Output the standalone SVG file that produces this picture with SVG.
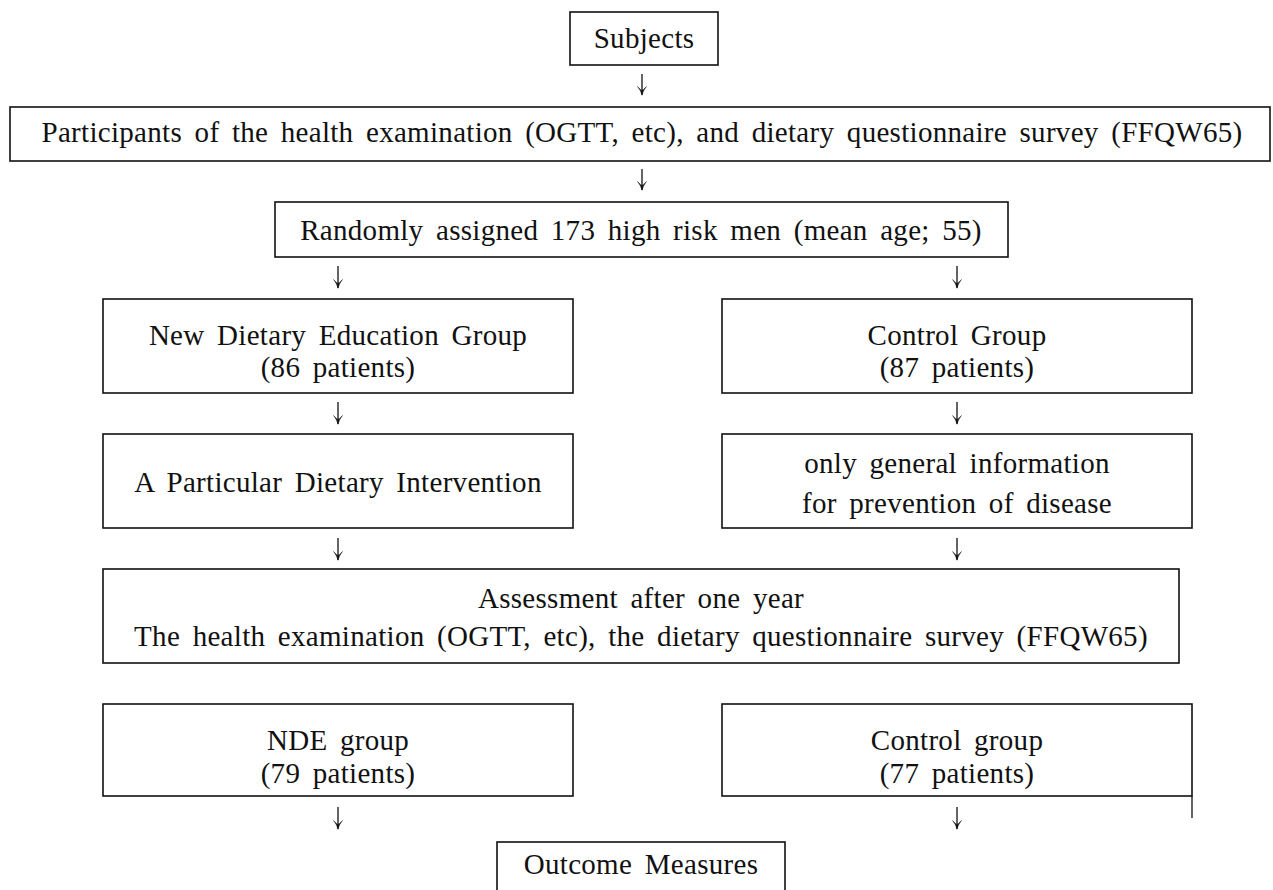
<svg xmlns="http://www.w3.org/2000/svg" width="1273" height="890" viewBox="0 0 1273 890">
<defs>
<style>
.box{fill:#fff;stroke:#111;stroke-width:1.6}
.t{font-family:"Liberation Serif","Times New Roman",serif;font-size:29px;fill:#111;text-anchor:middle;letter-spacing:0.3px;word-spacing:5px}
.c{stroke:#111;stroke-width:1.3;fill:none}
</style>
<marker id="ah" viewBox="0 0 10 10" refX="9.5" refY="5" markerWidth="10" markerHeight="10" markerUnits="userSpaceOnUse" orient="auto">
<path d="M1 0.5 Q5 3.8 9.8 5 Q5 6.2 1 9.5 Q5 5.6 5 5 Q5 4.4 1 0.5 Z" fill="#111" stroke="#111" stroke-width="0.4"/>
</marker>
</defs>
<rect width="1273" height="890" fill="#fff"/>
<g id="connectors">
<line class="c" x1="642" y1="74" x2="642" y2="95" marker-end="url(#ah)"/>
<line class="c" x1="642" y1="169" x2="642" y2="190" marker-end="url(#ah)"/>
<line class="c" x1="338" y1="266" x2="338" y2="288" marker-end="url(#ah)"/>
<line class="c" x1="957" y1="266" x2="957" y2="288" marker-end="url(#ah)"/>
<line class="c" x1="338" y1="402" x2="338" y2="424" marker-end="url(#ah)"/>
<line class="c" x1="957" y1="402" x2="957" y2="424" marker-end="url(#ah)"/>
<line class="c" x1="338" y1="538" x2="338" y2="560" marker-end="url(#ah)"/>
<line class="c" x1="957" y1="538" x2="957" y2="560" marker-end="url(#ah)"/>
<line class="c" x1="338" y1="807" x2="338" y2="829" marker-end="url(#ah)"/>
<line class="c" x1="957" y1="807" x2="957" y2="829" marker-end="url(#ah)"/>
</g>
<g id="subjects">
<rect class="box" x="570" y="12" width="148" height="53"/>
<text class="t" x="644" y="48">Subjects</text>
</g>
<g id="participants">
<rect class="box" x="10" y="107" width="1260" height="54"/>
<text class="t" x="642" y="142">Participants of the health examination (OGTT, etc), and dietary questionnaire survey (FFQW65)</text>
</g>
<g id="randomly">
<rect class="box" x="275" y="202" width="733" height="55"/>
<text class="t" x="641" y="240">Randomly assigned 173 high risk men (mean age; 55)</text>
</g>
<g id="nde-education">
<rect class="box" x="103" y="299" width="470" height="94"/>
<text class="t" x="338" y="345">New Dietary Education Group</text>
<text class="t" x="338" y="377">(86 patients)</text>
</g>
<g id="control-group">
<rect class="box" x="722" y="299" width="470" height="94"/>
<text class="t" x="957" y="345">Control Group</text>
<text class="t" x="957" y="377">(87 patients)</text>
</g>
<g id="particular">
<rect class="box" x="103" y="434" width="470" height="94"/>
<text class="t" x="338" y="492">A Particular Dietary Intervention</text>
</g>
<g id="general-info">
<rect class="box" x="722" y="434" width="470" height="94"/>
<text class="t" x="957" y="473">only general information</text>
<text class="t" x="957" y="513">for prevention of disease</text>
</g>
<g id="assessment">
<rect class="box" x="103" y="569" width="1076" height="94"/>
<text class="t" x="641" y="608">Assessment after one year</text>
<text class="t" x="641" y="646">The health examination (OGTT, etc), the dietary questionnaire survey (FFQW65)</text>
</g>
<g id="nde-group">
<rect class="box" x="103" y="704" width="470" height="92"/>
<text class="t" x="338" y="750">NDE group</text>
<text class="t" x="338" y="783">(79 patients)</text>
</g>
<g id="control-group-2">
<rect class="box" x="722" y="704" width="470" height="92"/>
<line class="c" x1="1192" y1="796" x2="1192" y2="818"/>
<text class="t" x="957" y="750">Control group</text>
<text class="t" x="957" y="783">(77 patients)</text>
</g>
<g id="outcome">
<rect class="box" x="497" y="842" width="288" height="60"/>
<text class="t" x="641" y="874">Outcome Measures</text>
</g>
</svg>
